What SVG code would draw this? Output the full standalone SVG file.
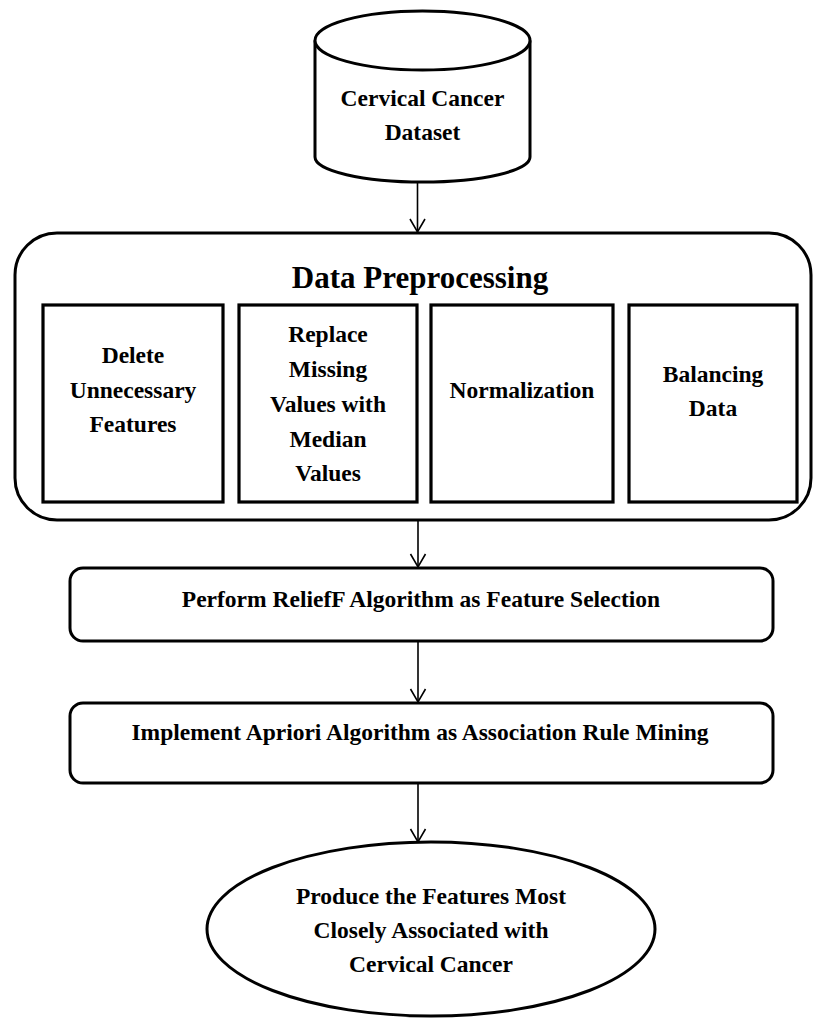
<svg xmlns="http://www.w3.org/2000/svg" width="814" height="1019" viewBox="0 0 814 1019">
<style>
.shape{fill:#fff;stroke:#000;stroke-width:3}
.inner{fill:#fff;stroke:#000;stroke-width:3.2}
.t{font-family:"Liberation Serif","Times New Roman",serif;font-weight:bold;font-size:23.5px;fill:#000;text-anchor:middle}
.title{font-size:31px}
.conn{stroke:#000;stroke-width:1.6;fill:none}
</style>
<defs>
<marker id="arr" markerWidth="20" markerHeight="20" refX="14" refY="10" orient="auto" markerUnits="userSpaceOnUse" viewBox="0 0 20 20">
<path d="M1,2.5 L14,10 L1,17.5" fill="none" stroke="#000" stroke-width="1.6"/>
</marker>
</defs>
<rect width="814" height="1019" fill="#fff"/>
<g id="connectors">
<line class="conn" x1="417.5" y1="182" x2="417.5" y2="232" marker-end="url(#arr)"/>
<line class="conn" x1="418" y1="521" x2="418" y2="567" marker-end="url(#arr)"/>
<line class="conn" x1="418" y1="642" x2="418" y2="702" marker-end="url(#arr)"/>
<line class="conn" x1="418" y1="784" x2="418" y2="842" marker-end="url(#arr)"/>
</g>
<g id="dataset">
<path class="shape" d="M315,40.5 L315,157 A107.5,25 0 0 0 530,157 L530,40.5"/>
<ellipse class="shape" cx="422.5" cy="40.5" rx="107.5" ry="29.5"/>
<text class="t" x="422.5" y="106">Cervical Cancer</text>
<text class="t" x="422.5" y="140">Dataset</text>
</g>
<g id="preprocessing">
<rect class="shape" x="15" y="233" width="796" height="287" rx="42" ry="42"/>
<text class="t title" x="420" y="288">Data Preprocessing</text>
</g>
<g id="delete-features">
<rect class="inner" x="43" y="305" width="180" height="197"/>
<text class="t" x="133" y="363">Delete</text>
<text class="t" x="133" y="398">Unnecessary</text>
<text class="t" x="133" y="432">Features</text>
</g>
<g id="replace-missing">
<rect class="inner" x="239" y="305" width="178" height="197"/>
<text class="t" x="328" y="342">Replace</text>
<text class="t" x="328" y="377">Missing</text>
<text class="t" x="328" y="412">Values with</text>
<text class="t" x="328" y="447">Median</text>
<text class="t" x="328" y="481">Values</text>
</g>
<g id="normalization">
<rect class="inner" x="431" y="305" width="182" height="197"/>
<text class="t" x="522" y="398">Normalization</text>
</g>
<g id="balancing">
<rect class="inner" x="629" y="305" width="168" height="197"/>
<text class="t" x="713" y="382">Balancing</text>
<text class="t" x="713" y="416">Data</text>
</g>
<g id="relieff">
<rect class="shape" x="70" y="568" width="703" height="73" rx="13" ry="13"/>
<text class="t" x="421" y="607">Perform ReliefF Algorithm as Feature Selection</text>
</g>
<g id="apriori">
<rect class="shape" x="70" y="703" width="703" height="80" rx="13" ry="13"/>
<text class="t" x="420" y="740">Implement Apriori Algorithm as Association Rule Mining</text>
</g>
<g id="result">
<ellipse class="shape" cx="431" cy="929" rx="224" ry="87"/>
<text class="t" x="431" y="904">Produce the Features Most</text>
<text class="t" x="431" y="938">Closely Associated with</text>
<text class="t" x="431" y="972">Cervical Cancer</text>
</g>
</svg>
